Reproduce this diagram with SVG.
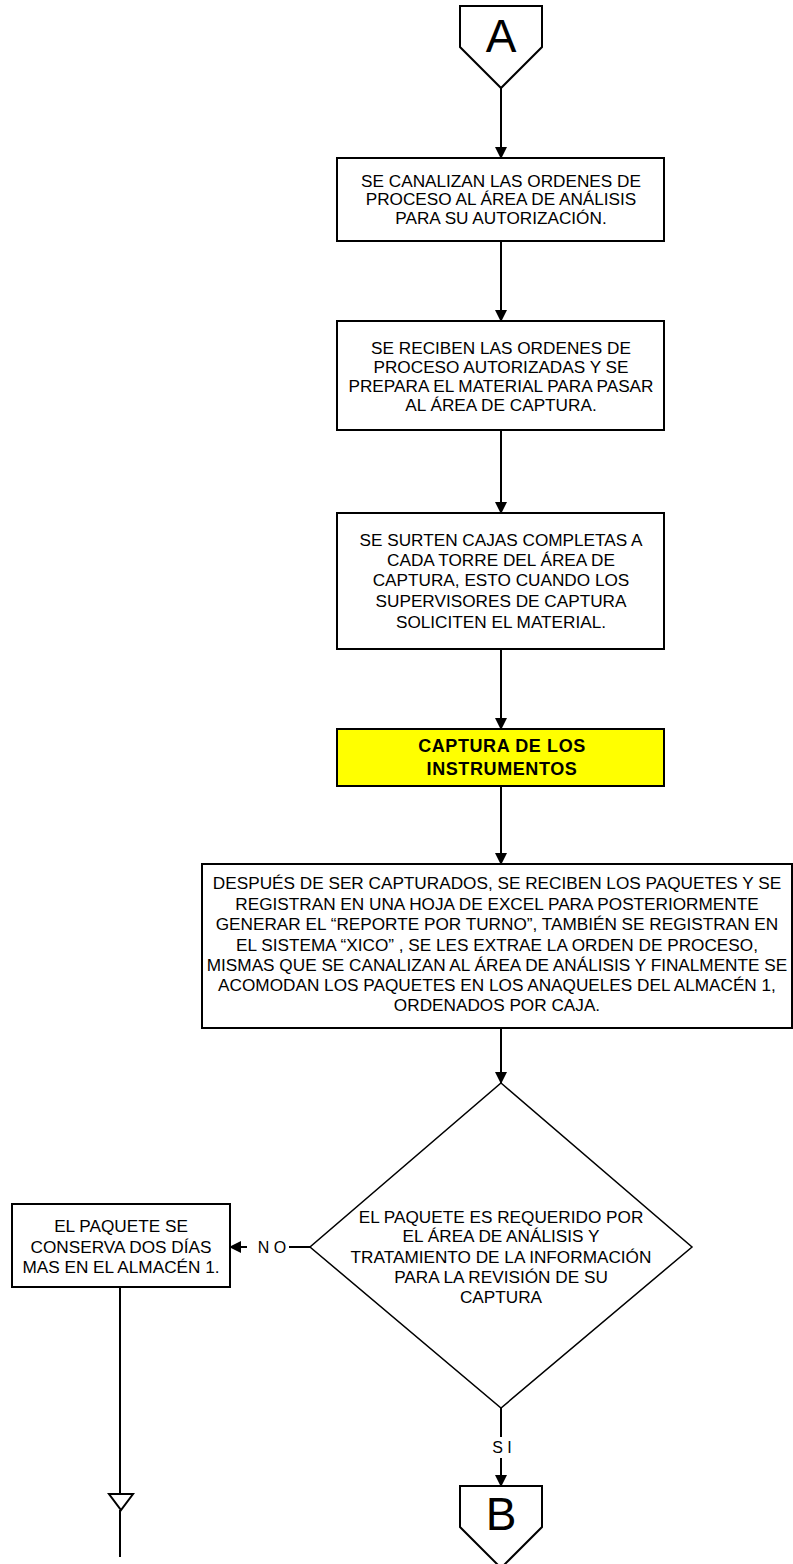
<svg xmlns="http://www.w3.org/2000/svg" width="793" height="1564" viewBox="0 0 793 1564">
<style>
  .box { fill: #ffffff; stroke: #000000; stroke-width: 2; }
  .yel { fill: #ffff00; stroke: #000000; stroke-width: 2; }
  .dia { fill: #ffffff; stroke: #000000; stroke-width: 1.5; }
  .con { fill: none; stroke: #000000; stroke-width: 2; }
  .t { font-family: "Liberation Sans", Arial, sans-serif; font-size: 17.2px; fill: #000000; text-anchor: middle; }
  .tb { font-family: "Liberation Sans", Arial, sans-serif; font-size: 17.2px; fill: #000000; text-anchor: middle; }
  .bold { font-family: "Liberation Sans", Arial, sans-serif; font-size: 18px; font-weight: bold; letter-spacing: 0.6px; fill: #000000; text-anchor: middle; }
  .big { font-family: "Liberation Sans", Arial, sans-serif; font-size: 46px; fill: #000000; text-anchor: middle; }
  .lbl { font-family: "Liberation Sans", Arial, sans-serif; font-size: 16px; fill: #000000; text-anchor: middle; }
</style>
<defs>
  <marker id="ah" markerWidth="12" markerHeight="12" refX="11" refY="6" orient="auto" markerUnits="userSpaceOnUse">
    <path d="M0,0 L12,6 L0,12 z" fill="#000000"/>
  </marker>
</defs>
<rect x="0" y="0" width="793" height="1564" fill="#ffffff"/>

<g id="connectors">
  <line class="con" x1="501" y1="88" x2="501" y2="158" marker-end="url(#ah)"/>
  <line class="con" x1="501" y1="241" x2="501" y2="321" marker-end="url(#ah)"/>
  <line class="con" x1="501" y1="430" x2="501" y2="513" marker-end="url(#ah)"/>
  <line class="con" x1="501" y1="649" x2="501" y2="729" marker-end="url(#ah)"/>
  <line class="con" x1="501" y1="786" x2="501" y2="864" marker-end="url(#ah)"/>
  <line class="con" x1="501" y1="1028" x2="501" y2="1083" marker-end="url(#ah)"/>
  <line class="con" x1="310" y1="1247" x2="289" y2="1247"/>
  <line class="con" x1="247" y1="1247" x2="230" y2="1247" marker-end="url(#ah)"/>
  <text class="lbl" x="272" y="1253">N O</text>
  <line class="con" x1="501" y1="1408" x2="501" y2="1437"/>
  <text class="lbl" x="502" y="1453">S I</text>
  <line class="con" x1="501" y1="1458" x2="501" y2="1486" marker-end="url(#ah)"/>
  <line class="con" x1="120" y1="1287" x2="120" y2="1494"/>
  <line class="con" x1="120" y1="1510" x2="120" y2="1557"/>
</g>

<g id="conn-A">
  <polygon class="box" points="460,6 542,6 542,47 501,88 460,47"/>
  <text class="big" x="501" y="52">A</text>
</g>

<g id="box1">
  <rect class="box" x="337" y="158" width="327" height="83"/>
  <text class="t" x="501" y="186.5">SE CANALIZAN LAS ORDENES DE</text>
  <text class="t" x="501" y="205.2">PROCESO AL ÁREA DE ANÁLISIS</text>
  <text class="t" x="501" y="224">PARA SU AUTORIZACIÓN.</text>
</g>

<g id="box2">
  <rect class="box" x="337" y="321" width="327" height="109"/>
  <text class="t" x="501" y="354">SE RECIBEN LAS ORDENES DE</text>
  <text class="t" x="501" y="372.8">PROCESO AUTORIZADAS Y SE</text>
  <text class="t" x="501" y="391.5">PREPARA EL MATERIAL PARA PASAR</text>
  <text class="t" x="501" y="410.5">AL ÁREA DE CAPTURA.</text>
</g>

<g id="box3">
  <rect class="box" x="337" y="513" width="327" height="136"/>
  <text class="t" x="501" y="545.5">SE SURTEN CAJAS COMPLETAS A</text>
  <text class="t" x="501" y="565.5">CADA TORRE DEL ÁREA DE</text>
  <text class="t" x="501" y="585.5">CAPTURA, ESTO CUANDO LOS</text>
  <text class="t" x="501" y="606.5">SUPERVISORES DE CAPTURA</text>
  <text class="t" x="501" y="627.5">SOLICITEN EL MATERIAL.</text>
</g>

<g id="box-captura">
  <rect class="yel" x="337" y="729" width="327" height="57"/>
  <text class="bold" x="502" y="751.5">CAPTURA DE LOS</text>
  <text class="bold" x="502" y="775">INSTRUMENTOS</text>
</g>

<g id="box4">
  <rect class="box" x="202" y="864" width="590" height="164"/>
  <text class="tb" x="497" y="889">DESPUÉS DE SER CAPTURADOS, SE RECIBEN LOS PAQUETES Y SE</text>
  <text class="tb" x="497" y="909.5">REGISTRAN EN UNA HOJA DE EXCEL PARA POSTERIORMENTE</text>
  <text class="tb" x="497" y="930">GENERAR EL “REPORTE POR TURNO”, TAMBIÉN SE REGISTRAN EN</text>
  <text class="tb" x="497" y="950.5">EL SISTEMA “XICO” , SE LES EXTRAE LA ORDEN DE PROCESO,</text>
  <text class="tb" x="497" y="971">MISMAS QUE SE CANALIZAN AL ÁREA DE ANÁLISIS Y FINALMENTE SE</text>
  <text class="tb" x="497" y="991">ACOMODAN LOS PAQUETES EN LOS ANAQUELES DEL ALMACÉN 1,</text>
  <text class="tb" x="497" y="1011">ORDENADOS POR CAJA.</text>
</g>

<g id="decision">
  <polygon class="dia" points="501,1083 692,1247 501,1408 310,1247"/>
  <text class="t" x="501" y="1222.7">EL PAQUETE ES REQUERIDO POR</text>
  <text class="t" x="501" y="1242">EL ÁREA DE ANÁLISIS Y</text>
  <text class="t" x="501" y="1262.5">TRATAMIENTO DE LA INFORMACIÓN</text>
  <text class="t" x="501" y="1283">PARA LA REVISIÓN DE SU</text>
  <text class="t" x="501" y="1303">CAPTURA</text>
</g>

<g id="box-no">
  <rect class="box" x="12" y="1204" width="218" height="83"/>
  <text class="t" x="121" y="1231.7">EL PAQUETE SE</text>
  <text class="t" x="121" y="1252.5">CONSERVA DOS DÍAS</text>
  <text class="t" x="121" y="1273.3">MAS EN EL ALMACÉN 1.</text>
</g>

<g id="flow-mark">
  <polygon class="box" points="109,1494 133,1494 121,1510"/>
</g>

<g id="conn-B">
  <polygon class="box" points="460,1486 542,1486 542,1527 501,1568 460,1527"/>
  <text class="big" x="501" y="1530">B</text>
</g>
</svg>
